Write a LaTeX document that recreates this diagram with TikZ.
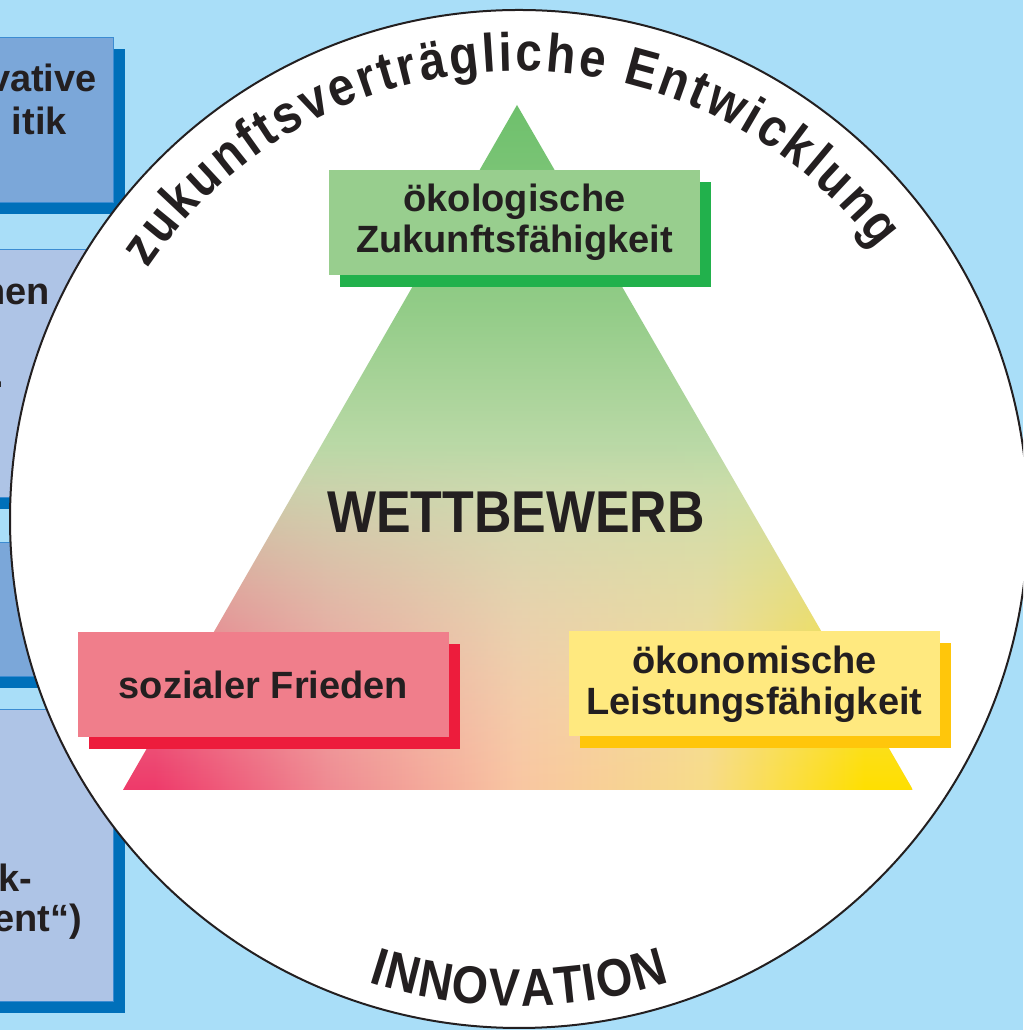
\documentclass[tikz,border=0pt]{standalone}
\usepackage{fontspec}
\setmainfont{Liberation Sans}
\newfontfamily\condfont[FakeStretch=0.88]{Liberation Sans}
\usetikzlibrary{shadows, fadings, decorations.text}

\definecolor{ink}{HTML}{231F20}
\definecolor{bgblue}{HTML}{A9DEF8}
\definecolor{midblue}{HTML}{7BA7D9}
\definecolor{lightblue}{HTML}{AEC4E6}
\definecolor{boxedge}{HTML}{3C8CD2}
\definecolor{boxshade}{HTML}{0070BA}
\definecolor{greenfill}{HTML}{98CE8E}
\definecolor{greenshade}{HTML}{22B14C}
\definecolor{pinkfill}{HTML}{F07E8B}
\definecolor{pinkshade}{HTML}{ED1C3C}
\definecolor{yellowfill}{HTML}{FFE97F}
\definecolor{yellowshade}{HTML}{FFC60B}
\definecolor{tritop}{HTML}{6EC06C}
\definecolor{trigreen}{HTML}{93CC88}
\definecolor{trimid}{HTML}{C6DDB0}
\definecolor{tribase}{HTML}{F0DEC6}
\definecolor{trired}{HTML}{EE3A6A}
\definecolor{tripink}{HTML}{F08A92}
\definecolor{tripeach}{HTML}{F9C6A2}
\definecolor{trilemon}{HTML}{F8DC88}
\definecolor{triyellow}{HTML}{FFE000}

\pgfdeclareverticalshading{pyramidup}{100bp}{color(0bp)=(tribase); color(25bp)=(tribase); color(47bp)=(trimid); color(60bp)=(trigreen); color(75bp)=(tritop); color(100bp)=(tritop)}
\pgfdeclarehorizontalshading{pyramidbase}{100bp}{color(0bp)=(trired); color(27bp)=(trired); color(38bp)=(tripink); color(50bp)=(tripeach); color(62bp)=(trilemon); color(72bp)=(triyellow); color(100bp)=(triyellow)}
\tikzfading[name=fadeup, top color=transparent!100, middle color=transparent!65, bottom color=transparent!0]

\newcommand\labelfont{\bfseries\fontsize{38}{41}\selectfont}
\newcommand\wettfont{\condfont\bfseries\fontsize{59}{59}\selectfont}
\newcommand\arcfont{\condfont\bfseries\fontsize{54}{54}\selectfont}
\newcommand\innofont{\condfont\bfseries\fontsize{53}{53}\selectfont}

\begin{document}
\begin{tikzpicture}[
    x=1pt, y=1pt,
    sidebox/.style={draw=boxedge, line width=1pt, minimum width=143pt, minimum height=#1, inner sep=0pt,
        drop shadow={shadow xshift=12pt, shadow yshift=-11pt, fill=boxshade, opacity=1}},
    sidetext/.style={font=\labelfont, text=ink, inner sep=0pt, anchor=base east},
    pillar/.style={minimum width=371pt, minimum height=105pt, inner sep=0pt, align=center, font=\labelfont, text=ink},
    pillarshadow/.style={drop shadow={shadow xshift=11pt, shadow yshift=-12pt, fill=#1, opacity=1}},
    arctext/.style={decorate, decoration={text along path, text align=fit to path, text color=ink, text={#1}}}
]
    % Frame
    \path[use as bounding box, clip] (0,0) rectangle (1023,1030);
    \fill[bgblue] (0,0) rectangle (1023,1030);

    % Side boxes, cut off by the left edge
    \node[sidebox=165pt, fill=midblue] (policy) at (41.5,909.5) {};
    \node[sidebox=248pt, fill=lightblue] (measures) at (41.5,656) {};
    \node[sidebox=134pt, fill=midblue] (third) at (41.5,420) {};
    \node[sidebox=292pt, fill=lightblue] (fourth) at (41.5,174) {};

    \node[sidetext] (policya) at (97,938) {vative};
    \node[sidetext] (policyb) at (67,895) {itik};
    \node[sidetext] (measuresa) at (50,725) {nen};
    \node[sidetext] (measuresb) at (4,642) {.};
    \node[sidetext] (fourtha) at (32,138) {k-};
    \node[sidetext] (fourthb) at (82,98) {ent“)};

    % Circle
    \coordinate (c) at (519,511);
    \draw[fill=white, draw=ink, line width=2pt] (c) circle[radius=509pt];

    % Triangle
    \coordinate (apex) at (517,925);
    \coordinate (baseleft) at (123,240);
    \coordinate (baseright) at (913,240);
    \begin{scope}
        \clip (apex) -- (baseleft) -- (baseright) -- cycle;
        \shade[shading=pyramidup] (123,240) rectangle (913,925);
        \shade[shading=pyramidbase, path fading=fadeup] (123,240) rectangle (913,585);
    \end{scope}

    % Pillars
    \node[pillar, fill=greenfill, pillarshadow=greenshade] (oeko) at (514.5,807.5) {ökologische\\Zukunftsfähigkeit};
    \node[pillar, fill=pinkfill, pillarshadow=pinkshade] (sozial) at (263.5,345.5) {sozialer Frieden};
    \node[pillar, fill=yellowfill, pillarshadow=yellowshade] (oekon) at (754.5,346) {ökonomische\\Leistungsfähigkeit};

    \node[font=\wettfont, text=ink, inner sep=0pt, anchor=base] (wett) at (516,497) {WETTBEWERB};

    % Texts along the circle
    \path[arctext={|\arcfont|zukunftsverträgliche Entwicklung}]
        (c) ++(146:448pt) arc[start angle=146, end angle=37, radius=448pt];
    \path[arctext={|\innofont|INNOVATION}]
        (c) ++(252:487pt) arc[start angle=252, end angle=288, radius=487pt];
\end{tikzpicture}
\end{document}
